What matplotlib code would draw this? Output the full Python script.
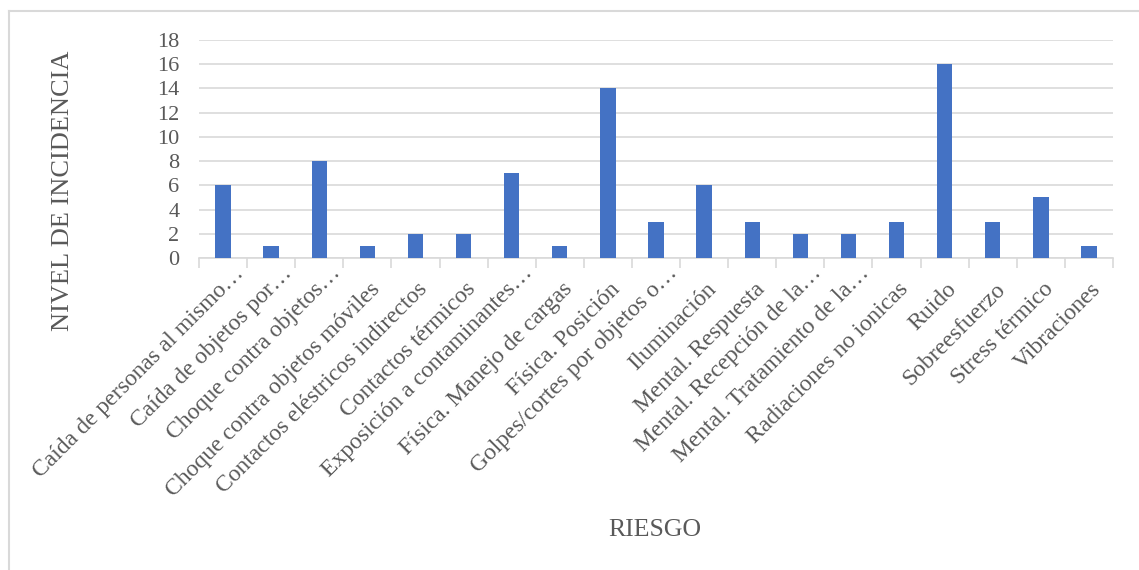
import matplotlib
matplotlib.use("Agg")
import matplotlib.pyplot as plt
from matplotlib.lines import Line2D
from matplotlib.ticker import MultipleLocator, FixedLocator
from matplotlib.transforms import ScaledTranslation

categories = [
    "Caída de personas al mismo…",
    "Caída de objetos por…",
    "Choque contra objetos…",
    "Choque contra objetos móviles",
    "Contactos eléstricos indirectos",
    "Contactos térmicos",
    "Exposición a contaminantes…",
    "Física. Manejo de cargas",
    "Física. Posición",
    "Golpes/cortes por objetos o…",
    "Iluminación",
    "Mental. Respuesta",
    "Mental. Recepción de la…",
    "Mental. Tratamiento de la…",
    "Radiaciones no ionicas",
    "Ruido",
    "Sobreesfuerzo",
    "Stress térmico",
    "Vibraciones",
]
values = [6, 1, 8, 1, 2, 2, 7, 1, 14, 3, 6, 3, 2, 2, 3, 16, 3, 5, 1]

plt.rcParams["font.family"] = ["Liberation Serif", "DejaVu Serif"]
text_color = "#595959"
grid_color = "#d9d9d9"

W, H = 1139, 570
fig = plt.figure(figsize=(W / 100, H / 100), dpi=100)

# chart-area frame (top and left edges)
fig.lines.append(Line2D([8.5 / W, 8.5 / W], [0, 1 - 10.5 / H], transform=fig.transFigure,
                        color=grid_color, linewidth=1.5))
fig.lines.append(Line2D([8.5 / W, 1], [1 - 10.5 / H, 1 - 10.5 / H], transform=fig.transFigure,
                        color=grid_color, linewidth=1.5))

ax = fig.add_axes([199 / W, 1 - 258 / H, (1113 - 199) / W, (258 - 40) / H])
x = list(range(len(categories)))
ax.bar(x, values, width=0.32, color="#4472c4", zorder=3)

ax.set_xlim(-0.5, len(categories) - 0.5)
ax.set_ylim(0, 18)
ax.yaxis.set_major_locator(MultipleLocator(2))
ax.grid(axis="y", color=grid_color, linewidth=1.2, zorder=0)

for s in ["top", "right", "left"]:
    ax.spines[s].set_visible(False)
ax.spines["bottom"].set_color(grid_color)
ax.spines["bottom"].set_linewidth(1.2)

ax.set_xticks(x)
ax.set_xticklabels(categories, rotation=45, ha="right", va="baseline",
                   rotation_mode="anchor", fontsize=17, color=text_color)
ax.tick_params(axis="x", which="major", length=0, pad=23)
for lab in ax.get_xticklabels():
    dx, dy = 13, 0
    if lab.get_text().endswith("…"):
        dx, dy = 22, 16
    lab.set_transform(lab.get_transform() + ScaledTranslation(dx / 100, dy / 100, fig.dpi_scale_trans))
ax.xaxis.set_minor_locator(FixedLocator([i - 0.5 for i in range(len(categories) + 1)]))
ax.tick_params(axis="x", which="minor", length=7, color=grid_color, width=1.2)
ax.tick_params(axis="y", length=0, labelsize=16, labelcolor=text_color, pad=14)

fig.text(69 / W, 1 - 191 / H, "NIVEL DE INCIDENCIA", rotation=90, ha="center", va="baseline",
         rotation_mode="anchor", fontsize=19, color=text_color)
fig.text(655 / W, 1 - 530 / H, "RIESGO", ha="center", va="center",
         fontsize=18.5, color=text_color)

fig.savefig("out.png", dpi=100)
